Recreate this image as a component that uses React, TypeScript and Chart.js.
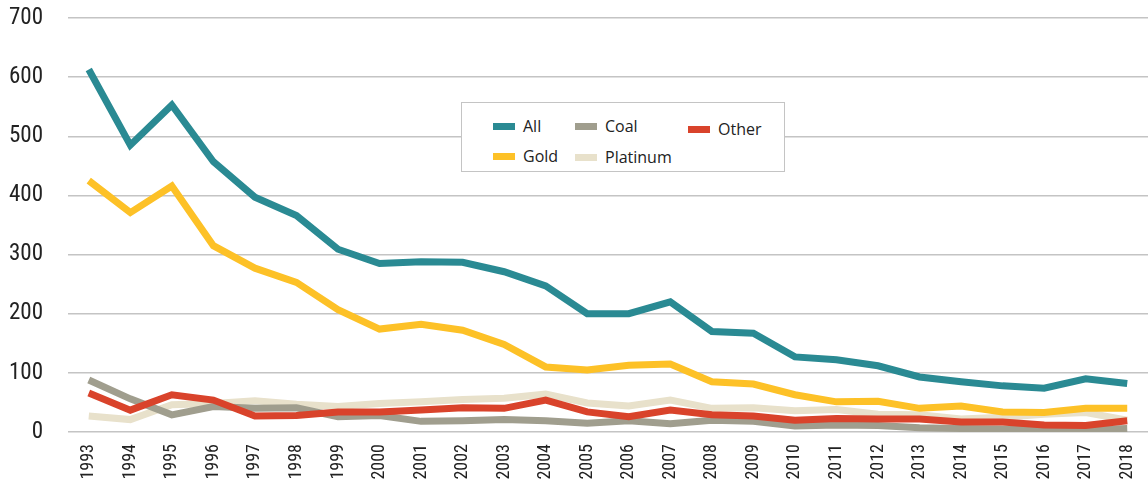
import React, { useEffect, useRef } from "react";
import { Chart, registerables } from "chart.js";

Chart.register(...registerables);

const years = ["1993","1994","1995","1996","1997","1998","1999","2000","2001","2002","2003","2004","2005","2006","2007","2008","2009","2010","2011","2012","2013","2014","2015","2016","2017","2018"];
const allValues = [613,485,553,457,397,366,309,285,288,287,271,247,200,200,220,170,167,127,122,112,93,85,78,74,90,82];
const goldValues = [425,371,416,315,277,253,207,174,182,172,148,110,105,113,115,85,81,63,51,52,40,44,34,33,40,40];
const coalValues = [88,56,29,43,40,41,26,28,18,19,21,19,15,19,14,20,18,10,12,11,7,6,5,3,4,6];
const platinumValues = [27,21,46,48,53,47,43,48,51,55,57,64,49,44,54,40,41,36,38,30,29,22,25,30,33,20];
const otherValues = [66,37,63,54,27,28,34,34,37,41,40,54,34,26,37,29,27,20,23,22,22,17,17,12,11,19];
const yTicks = [0,100,200,300,400,500,600,700];

const COLORS = {
  all: "#2a8a93",
  gold: "#fdc127",
  coal: "#a09e8e",
  platinum: "#e8e1cb",
  other: "#d9432b",
};

const legendItems = [
  { label: "All", color: COLORS.all, left: 31, top: 12 },
  { label: "Coal", color: COLORS.coal, left: 113, top: 12 },
  { label: "Other", color: COLORS.other, left: 226, top: 15 },
  { label: "Gold", color: COLORS.gold, left: 31, top: 42 },
  { label: "Platinum", color: COLORS.platinum, left: 113, top: 43 },
];

const TICK_FONT = "'Roboto Condensed', 'Liberation Sans', sans-serif";

export default function App() {
  const ref = useRef<HTMLCanvasElement | null>(null);
  useEffect(() => {
    if (!ref.current) return;
    const mk = (label: string, data: number[], color: string, order: number) => ({
      label,
      data,
      borderColor: color,
      backgroundColor: color,
      borderWidth: 7,
      pointRadius: 0,
      tension: 0,
      borderJoinStyle: "miter" as const,
      borderCapStyle: "butt" as const,
      fill: false,
      order,
    });
    const chart = new Chart(ref.current, {
      type: "line",
      data: {
        labels: years,
        datasets: [
          mk("Platinum", platinumValues, COLORS.platinum, 5),
          mk("Coal", coalValues, COLORS.coal, 4),
          mk("Other", otherValues, COLORS.other, 3),
          mk("Gold", goldValues, COLORS.gold, 2),
          mk("All", allValues, COLORS.all, 1),
        ],
      },
      options: {
        animation: false,
        responsive: true,
        maintainAspectRatio: false,
        layout: { padding: { top: 18, right: 0, bottom: 0, left: 0 } },
        plugins: { legend: { display: false }, tooltip: { enabled: false } },
        scales: {
          x: {
            offset: true,
            grid: { display: false, drawTicks: false },
            border: { display: false },
            ticks: {
              maxRotation: 90,
              minRotation: 90,
              autoSkip: false,
              padding: 12,
              color: "#222",
              font: { family: TICK_FONT, size: 18 },
            },
            afterFit: (s: any) => {
              s.height = 49;
              s.paddingLeft = 0;
              s.paddingRight = 0;
              s.paddingTop = 0;
              s.paddingBottom = 0;
            },
          },
          y: {
            min: 0,
            max: 700,
            afterBuildTicks: (s: any) => { s.ticks = yTicks.map((v) => ({ value: v })); },
            grid: { color: "#c4c4c4", lineWidth: 1.5, drawTicks: false },
            border: { display: false },
            ticks: {
              padding: 25,
              color: "#222",
              font: { family: TICK_FONT, size: 23 },
            },
            afterFit: (s: any) => {
              s.width = 68;
              s.paddingTop = 0;
              s.paddingBottom = 0;
              s.paddingLeft = 0;
              s.paddingRight = 0;
            },
          },
        },
      },
    });
    return () => chart.destroy();
  }, []);

  return (
    <div style={{ position: "fixed", left: 0, top: 0, width: 1148, height: 481, background: "#fff" }}>
      <canvas ref={ref} />
      <div
        style={{
          position: "absolute",
          left: 461,
          top: 102,
          width: 324,
          height: 70,
          border: "1.5px solid #c4c4c4",
          background: "#fff",
          boxSizing: "border-box",
          fontFamily: "'Open Sans', 'Noto Sans', sans-serif",
          fontSize: 16,
          color: "#222",
        }}
      >
        {legendItems.map((it) => (
          <div key={it.label} style={{ position: "absolute", left: it.left, top: it.top, display: "flex", alignItems: "center", lineHeight: "22px" }}>
            <span style={{ display: "inline-block", width: 22, height: 7, background: it.color, marginRight: 8 }} />
            <span>{it.label}</span>
          </div>
        ))}
      </div>
    </div>
  );
}
